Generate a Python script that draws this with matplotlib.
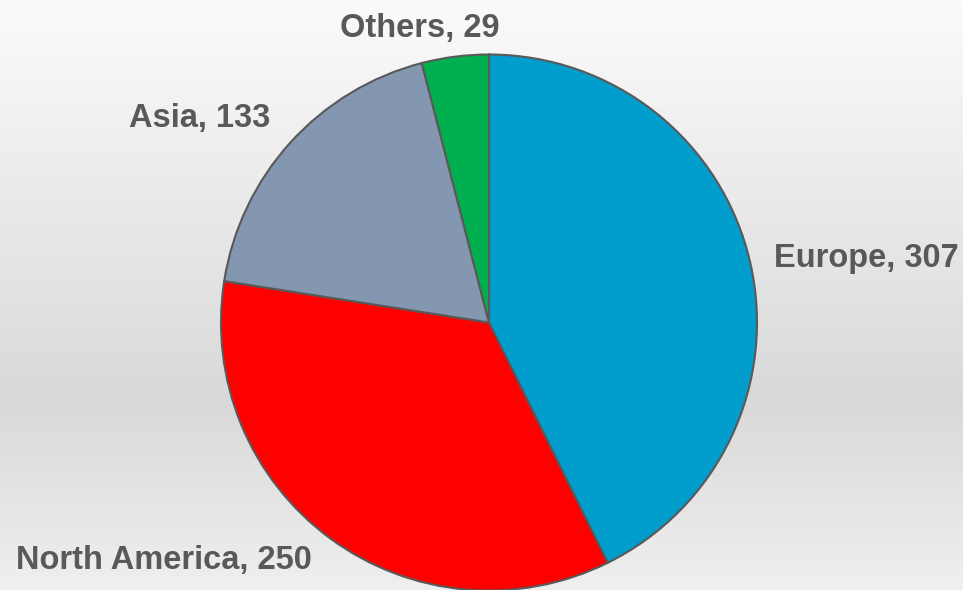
import matplotlib
matplotlib.use("Agg")
import matplotlib.pyplot as plt
import numpy as np
from matplotlib.colors import LinearSegmentedColormap

regions = ["Europe", "North America", "Asia", "Others"]
values = [307, 250, 133, 29]
colors = ["#009DCD", "#FF0000", "#8497B0", "#00B050"]

# label baseline spots, in pie radius units (layout only)
label_pos = {
    "Europe": (1.063, 0.207, "left"),
    "North America": (-1.765, -0.920, "left"),
    "Asia": (-1.080, 0.730, "center"),
    "Others": (-0.259, 1.065, "center"),
}

W, H, dpi = 963, 590, 100
fig = plt.figure(figsize=(W / dpi, H / dpi), dpi=dpi)
ax = fig.add_axes([0, 0, 1, 1])

# pie centre at pixel (489, 322.5), radius 268 px
r_px, cx, cy = 268.0, 489.0, 322.5
xlim = ((0 - cx) / r_px, (W - cx) / r_px)
ylim = ((cy - H) / r_px, cy / r_px)

# background: light at top, grey in the lower middle, lighter again at bottom
bg = LinearSegmentedColormap.from_list(
    "bg", [(0.0, "#fbfbfb"), (0.68, "#d9d9d9"), (1.0, "#efefef")])
grad = np.linspace(0, 1, 256).reshape(-1, 1)
ax.imshow(grad, cmap=bg, aspect="auto", extent=[xlim[0], xlim[1], ylim[0], ylim[1]],
          origin="upper", zorder=0)

ax.pie(values, colors=colors, startangle=90, counterclock=False, radius=1.0,
       wedgeprops=dict(edgecolor="#595959", linewidth=1.5), center=(0, 0),
       frame=True)

for name, v in zip(regions, values):
    x, y, ha = label_pos[name]
    ax.text(x, y, f"{name}, {v}", ha=ha, va="baseline", fontsize=23.5,
            fontweight="bold", color="#595959", family="Liberation Sans")

ax.set_xlim(*xlim)
ax.set_ylim(*ylim)
ax.set_aspect("auto")
ax.axis("off")

fig.savefig("out.png", dpi=dpi)
